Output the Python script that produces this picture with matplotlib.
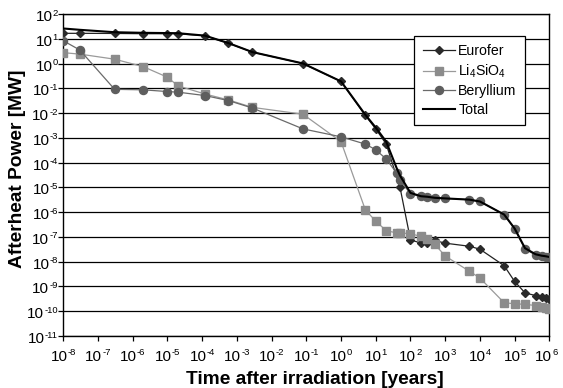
#! /usr/bin/env python3
import numpy as np
import matplotlib
matplotlib.use("Agg")
from matplotlib import pyplot as plt
from matplotlib import ticker

plt.rcParams['font.family'] = ['Liberation Sans', 'DejaVu Sans']
plt.rcParams['mathtext.fontset'] = 'custom'
plt.rcParams['mathtext.rm'] = 'Liberation Sans'
plt.rcParams['mathtext.it'] = 'Liberation Sans:italic'
plt.rcParams['mathtext.bf'] = 'Liberation Sans:bold'
plt.rcParams['axes.unicode_minus'] = False

# ── data (time in years, power in MW) ──────────────────────────────────
t_eurofer = [1e-8, 3e-8, 3e-7, 2e-6, 1e-5, 2e-5, 1.2e-4, 5.7e-4, 2.8e-3,
             0.08, 1, 5, 10, 20, 50, 100, 200, 300, 500, 1e3, 5e3, 1e4,
             5e4, 1e5, 2e5, 4e5, 6e5, 8e5, 1e6]
eurofer = [16.6, 16.6, 16.4, 16.0, 16.0, 15.8, 13.3, 6.6, 2.9,
           1.0, 0.19, 8e-3, 2.3e-3, 5.6e-4, 1e-5, 7.7e-8, 5.6e-8, 5.6e-8,
           7.2e-8, 5.6e-8, 4.2e-8, 3.2e-8,
           6.9e-9, 1.6e-9, 5.5e-10, 4.3e-10, 3.6e-10, 3.3e-10, 3.2e-10]

t = [1e-8, 3e-8, 3e-7, 2e-6, 1e-5, 2e-5, 1.2e-4, 5.7e-4, 2.8e-3,
     0.08, 1, 5, 10, 20, 40, 50, 100, 200, 300, 500, 1e3, 5e3, 1e4,
     5e4, 1e5, 2e5, 4e5, 6e5, 8e5, 1e6]
li4sio4 = [2.75, 2.4, 1.5, 0.75, 0.28, 0.126, 0.059, 0.034, 0.017,
           9e-3, 7e-4, 1.25e-6, 4.3e-7, 1.8e-7, 1.45e-7, 1.45e-7, 1.35e-7,
           1.05e-7, 8.3e-8, 5.1e-8, 1.7e-8, 4.1e-9, 2.2e-9,
           2.2e-10, 2e-10, 1.9e-10, 1.7e-10, 1.5e-10, 1.35e-10, 1.25e-10]
beryllium = [8.3, 3.5, 0.091, 0.087, 0.074, 0.07, 0.051, 0.032, 0.016,
             2.3e-3, 1.1e-3, 5.6e-4, 3.3e-4, 1.4e-4, 3.8e-5, 2e-5, 5.5e-6,
             4.3e-6, 4.1e-6, 3.7e-6, 3.6e-6, 3.2e-6, 2.7e-6,
             8e-7, 2.1e-7, 3.2e-8, 1.9e-8, 1.7e-8, 1.6e-8, 1.5e-8]
total = [26.0, 23.0, 18.4, 17.4, 17.0, 16.8, 13.4, 6.7, 2.9,
         1.01, 0.19, 8.6e-3, 2.6e-3, 7e-4, 6e-5, 3e-5, 6e-6,
         4.4e-6, 4.2e-6, 3.8e-6, 3.6e-6, 3.2e-6, 2.7e-6,
         8e-7, 2.2e-7, 3.5e-8, 2e-8, 1.75e-8, 1.65e-8, 1.55e-8]

x_decades = list(range(-8, 7))
y_decades = list(range(-11, 3))

BASE_FS, SUP_FS = 11, 6.8

# ── figure ─────────────────────────────────────────────────────────────
fig = plt.figure(figsize=(5.63, 3.88), dpi=100)
ax = fig.add_axes([0.1125, 0.134, 0.8632, 0.8299])

for k in y_decades:
    ax.axhline(10.0 ** k, color='black', lw=0.9, zorder=1)

ax.plot(t_eurofer, eurofer, color='#222222', lw=0.9, marker='D', ms=4.2,
        mfc='#2a2a2a', mec='#2a2a2a', label='Eurofer', zorder=3)
ax.plot(t, li4sio4, color='#9a9a9a', lw=0.9, marker='s', ms=5.2,
        mfc='#8c8c8c', mec='#8c8c8c', label=r'Li$_4$SiO$_4$', zorder=3)
ax.plot(t, beryllium, color='#6a6a6a', lw=0.9, marker='o', ms=5.8,
        mfc='#5e5e5e', mec='#5e5e5e', label='Beryllium', zorder=3)
ax.plot(t, total, color='black', lw=1.5, label='Total', zorder=4)

ax.set_xscale('log')
ax.set_yscale('log')
ax.set_xlim(1e-8, 1e6)
ax.set_ylim(1e-11, 1e2)
ax.xaxis.set_major_locator(ticker.FixedLocator([10.0 ** k for k in x_decades]))
ax.yaxis.set_major_locator(ticker.FixedLocator([10.0 ** k for k in y_decades]))
ax.xaxis.set_minor_locator(ticker.NullLocator())
ax.yaxis.set_minor_locator(ticker.NullLocator())
ax.xaxis.set_major_formatter(ticker.NullFormatter())
ax.yaxis.set_major_formatter(ticker.NullFormatter())
ax.tick_params(direction='out', length=3.5, width=0.9, colors='black')

for s in ax.spines.values():
    s.set_color('black')
    s.set_linewidth(1.0)

# tick labels drawn as "10" plus a small raised exponent
renderer = fig.canvas.get_renderer()


def text_width(s, fs):
    tmp = fig.text(0, 0, s, fontsize=fs)
    w = tmp.get_window_extent(renderer).width
    tmp.remove()
    return w


w10 = text_width("10", BASE_FS)
for k in x_decades:
    we = text_width(f"{k}", SUP_FS)
    dx = -(w10 + we) / 2 + w10
    if k == x_decades[-1]:
        dx -= 3
    ax.annotate("10", xy=(10.0 ** k, 0), xycoords=('data', 'axes fraction'),
                xytext=(dx, -24.5), textcoords='offset pixels',
                ha='right', va='baseline', fontsize=BASE_FS,
                annotation_clip=False)
    ax.annotate(f"{k}", xy=(10.0 ** k, 0), xycoords=('data', 'axes fraction'),
                xytext=(dx, -18.5), textcoords='offset pixels',
                ha='left', va='baseline', fontsize=SUP_FS,
                annotation_clip=False)

for k in y_decades:
    we = text_width(f"{k}", SUP_FS)
    dx = -5.5 - we
    ax.annotate("10", xy=(0, 10.0 ** k), xycoords=('axes fraction', 'data'),
                xytext=(dx, -7), textcoords='offset pixels',
                ha='right', va='baseline', fontsize=BASE_FS,
                annotation_clip=False)
    ax.annotate(f"{k}", xy=(0, 10.0 ** k), xycoords=('axes fraction', 'data'),
                xytext=(dx, -1.5), textcoords='offset pixels',
                ha='left', va='baseline', fontsize=SUP_FS,
                annotation_clip=False)

fig.text(314.5 / 563, 1 - 383.5 / 388, "Time after irradiation [years]",
         fontsize=13.8, fontweight='bold', ha='center', va='baseline')
fig.text(18 / 563, 1 - 168.5 / 388, "Afterheat Power [MW]",
         fontsize=13.8, fontweight='bold', ha='center', va='center',
         rotation=90)

leg = ax.legend(loc='upper right', bbox_to_anchor=(0.95, 0.932),
                fontsize=10.2, frameon=True, fancybox=False,
                edgecolor='black', framealpha=1, handlelength=2.3,
                handletextpad=0.2, labelspacing=0.3, borderpad=0.6,
                borderaxespad=0)
leg.get_frame().set_linewidth(0.9)

plt.savefig('out.png', dpi=100)
